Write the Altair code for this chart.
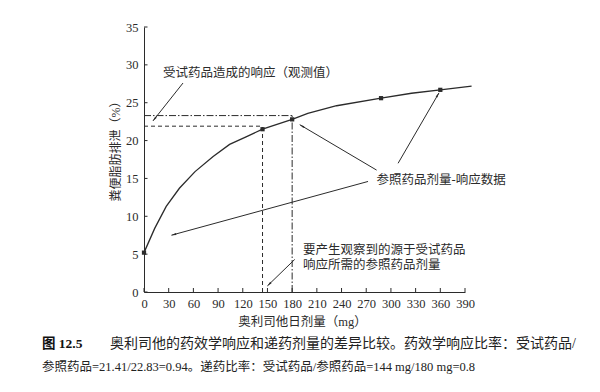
import math
import altair as alt
import pandas as pd

# ---------------- data ----------------
curve_x = [0, 13, 27, 43, 62, 84, 104, 124, 144, 180, 199, 234, 288, 325, 360, 398]
curve_y = [5.2, 8.4, 11.3, 13.7, 15.9, 17.9, 19.5, 20.5, 21.5, 22.8, 23.6, 24.6, 25.6, 26.25, 26.7, 27.2]

marker_x = [0, 144, 180, 288, 360]
marker_y = [5.2, 21.5, 22.8, 25.6, 26.7]

test_dose = 144
test_resp = 21.9
ref_dose = 180
ref_resp = 23.3

x_ticks = [0, 30, 60, 90, 120, 150, 180, 210, 240, 270, 300, 330, 360, 390]
y_ticks = [0, 5, 10, 15, 20, 25, 30, 35]

arrow_x_start = [47.4, 282.6, 308.7, 272.2, 183.1]
arrow_y_start = [27.6, 16.1, 17.0, 14.6, 4.3]
arrow_x_end = [10.9, 189.2, 358.4, 33.3, 149.9]
arrow_y_end = [22.6, 22.1, 26.3, 7.5, 0.8]

note_text = ["受试药品造成的响应（观测值）", "参照药品剂量-响应数据",
             "要产生观察到的源于受试药品", "响应所需的参照药品剂量"]
note_x = [23, 282.6, 193.2, 193.2]
note_y = [28.9, 14.8, 5.55, 3.55]

x_title = "奥利司他日剂量（mg）"
y_title = "粪便脂肪排泄（%）"
caption_head = "图 12.5"
caption_1 = "奥利司他的药效学响应和递药剂量的差异比较。药效学响应比率：受试药品/"
caption_2 = "参照药品=21.41/22.83=0.94。递药比率：受试药品/参照药品=144 mg/180 mg=0.8"

# ---------------- layout ----------------
W, H = 321, 265
XMAX, YMAX = 390, 35
INK = "#2b2b2b"
FONT = "Liberation Serif, 'Noto Sans CJK SC'"

xs = alt.Scale(domain=[0, XMAX], nice=False, zero=False)
ys = alt.Scale(domain=[0, YMAX], nice=False, zero=False)


def px(v):
    return v * W / XMAX


def py(v):
    return H - v * H / YMAX


AX = alt.Axis(values=x_ticks, title=x_title, tickSize=0, labelPadding=5,
              labelFont=FONT, labelFontSize=12.5, labelColor=INK,
              titleFont=FONT, titleFontSize=12.5, titleFontWeight="normal",
              titleColor=INK, titleX=158, titleY=29, titleBaseline="middle",
              domainColor=INK, grid=False, labelFlush=False)
AY = alt.Axis(values=y_ticks, title=y_title, tickSize=0, labelPadding=6,
              labelFont=FONT, labelFontSize=12.5, labelColor=INK,
              titleFont=FONT, titleFontSize=12, titleFontWeight="normal",
              titleColor=INK, titleAngle=270, titleX=-29, titleY=121,
              titleAlign="center", titleBaseline="middle",
              domainColor=INK, grid=False, labelFlush=False)


def X(field):
    return alt.X(field, scale=xs, axis=AX)


def Y(field):
    return alt.Y(field, scale=ys, axis=AY)


curve_df = pd.DataFrame({"x": curve_x, "y": curve_y})
marker_df = pd.DataFrame({"x": marker_x, "y": marker_y})

curve = alt.Chart(curve_df).mark_line(color=INK, strokeWidth=1.3).encode(
    x=X("x:Q"), y=Y("y:Q"))

markers = alt.Chart(marker_df).mark_square(color=INK, size=18, opacity=1).encode(
    x=X("x:Q"), y=Y("y:Q"))

dash_df = pd.DataFrame({"x": [0, test_dose], "y": [test_resp, 0],
                        "x2": [test_dose, test_dose], "y2": [test_resp, test_resp]})
dashdot_df = pd.DataFrame({"x": [0, ref_dose], "y": [ref_resp, 0],
                           "x2": [ref_dose, ref_dose], "y2": [ref_resp, ref_resp]})


def guide(df, dash):
    return alt.Chart(df).mark_rule(color=INK, strokeWidth=1, strokeDash=dash).encode(
        x=X("x:Q"), x2="x2:Q", y=Y("y:Q"), y2="y2:Q")


dashed = guide(dash_df, [4, 3])
dashdot = guide(dashdot_df, [7, 2, 1.5, 2])

# inward ticks
xt = alt.Chart(pd.DataFrame({"x": x_ticks})).mark_rule(color=INK, strokeWidth=1).encode(
    x=X("x:Q"), y=alt.value(H), y2=alt.value(H - 4))
yt = alt.Chart(pd.DataFrame({"y": y_ticks})).mark_rule(color=INK, strokeWidth=1).encode(
    y=Y("y:Q"), x=alt.value(0), x2=alt.value(3.5))

# arrows
angles = []
for xa, ya, xb, yb in zip(arrow_x_start, arrow_y_start, arrow_x_end, arrow_y_end):
    dx = px(xb) - px(xa)
    dy = py(yb) - py(ya)
    angles.append(math.degrees(math.atan2(dx, -dy)) % 360)
arrow_df = pd.DataFrame({"x": arrow_x_start, "y": arrow_y_start,
                         "x2": arrow_x_end, "y2": arrow_y_end, "ang": angles})

arrow_lines = alt.Chart(arrow_df).mark_rule(color=INK, strokeWidth=1).encode(
    x=X("x:Q"), x2="x2:Q", y=Y("y:Q"), y2="y2:Q")
arrow_heads = alt.Chart(arrow_df).mark_point(
    shape="M0,0L-0.55,2.6L0.55,2.6Z", filled=True, size=14, color=INK, opacity=1
).encode(x=X("x2:Q"), y=Y("y2:Q"), angle=alt.Angle("ang:Q", scale=None))

notes = alt.Chart(pd.DataFrame({"t": note_text, "x": note_x, "y": note_y})).mark_text(
    align="left", baseline="middle", font=FONT, fontSize=12.5, color=INK
).encode(x=X("x:Q"), y=Y("y:Q"), text="t:N")

# caption
cap_head = alt.Chart(pd.DataFrame({"t": [caption_head]})).mark_text(
    align="left", baseline="middle", font=FONT, fontSize=13.5, fontWeight="bold",
    color="#111").encode(x=alt.value(-102), y=alt.value(317), text="t:N")
cap_1 = alt.Chart(pd.DataFrame({"t": [caption_1]})).mark_text(
    align="left", baseline="middle", font=FONT, fontSize=14, color="#222").encode(
    x=alt.value(-34), y=alt.value(317), text="t:N")
cap_2 = alt.Chart(pd.DataFrame({"t": [caption_2]})).mark_text(
    align="left", baseline="middle", font=FONT, fontSize=12.5, color="#222").encode(
    x=alt.value(-102), y=alt.value(340), text="t:N")

chart = alt.layer(
    curve, dashed, dashdot, xt, yt, markers, arrow_lines, arrow_heads, notes,
    cap_head, cap_1, cap_2,
).properties(
    width=W, height=H,
    autosize=alt.AutoSizeParams(type="none"),
    padding={"left": 136, "top": 19, "right": 127, "bottom": 92},
    background="white",
).configure_view(stroke=None).configure_axis(domainWidth=1)

chart.save("out.html", embed_options={"renderer": "svg", "actions": False})
